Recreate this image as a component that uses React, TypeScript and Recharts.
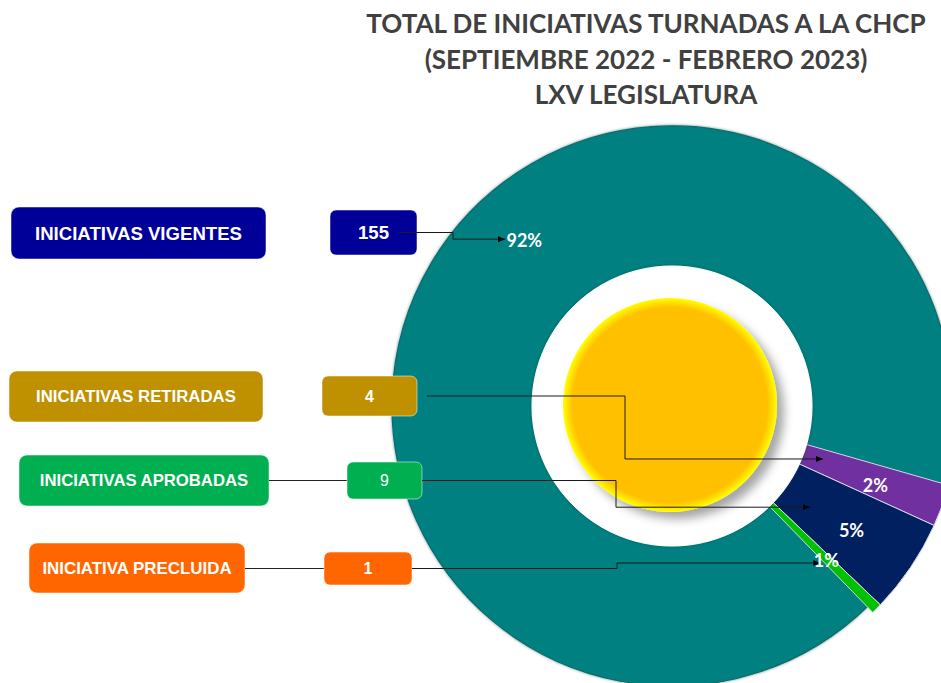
import React from 'react';
import { PieChart, Pie, Cell } from 'recharts';

// data
const categories = [
  'INICIATIVAS VIGENTES',
  'INICIATIVAS RETIRADAS',
  'INICIATIVAS APROBADAS',
  'INICIATIVA PRECLUIDA'
];
const values = [155, 4, 9, 1];
const sliceColors = ['#008080', '#7030A0', '#002060', '#00C000'];
const boxColors = ['#000099', '#BF9000', '#00B050', '#FF6600'];
const titleLines = [
  'TOTAL DE INICIATIVAS TURNADAS A LA CHCP',
  '(SEPTIEMBRE 2022 - FEBRERO 2023)',
  'LXV LEGISLATURA'
];

const pieData = categories.map((name, i) => ({ name, value: values[i] }));
const holeData = [{ name: 'centro', value: 1 }];

// layout
const W = 941;
const H = 683;
const CX = 672;
const CY = 406;
const START_ANGLE = 314.2;
const RAD = Math.PI / 180;

const nameBoxes = [
  { x: 11, y: 207, w: 255, h: 52 },
  { x: 9, y: 371, w: 254, h: 51 },
  { x: 19, y: 455, w: 250, h: 51 },
  { x: 29, y: 543, w: 216, h: 50 }
];
const valueBoxes = [
  { x: 330, y: 210, w: 87, h: 45 },
  { x: 322, y: 376, w: 95, h: 40 },
  { x: 347, y: 462, w: 75, h: 37 },
  { x: 324, y: 552, w: 88, h: 33 }
];
const nameFontSize = [18.6, 16.8, 16.7, 16.9];
const valueFontSize = [18.6, 16, 16, 16];
const valueBold = [true, true, false, true];
const linkedToName = [false, false, true, true];
const leaderStartX = [398, 427, 422, 412];
const elbowX = [453, 625, 616, 617];
const tipR = [236, 160, 171, 216];
const tipDA = [-14.1, 0.9, -2.2, -1.9];
const labelR = [222, 218, 218, 218];
const labelDA = [-17.4, -0.9, -0.5, -0.2];

const polar = (cx: number, cy: number, r: number, a: number) => ({
  x: cx + r * Math.cos(-a * RAD),
  y: cy + r * Math.sin(-a * RAD)
});

const renderOverlay = (props: any) => {
  const { midAngle, percent, index } = props;
  const cx = typeof props.cx === 'number' ? props.cx : CX;
  const cy = typeof props.cy === 'number' ? props.cy : CY;
  const nb = nameBoxes[index];
  const vb = valueBoxes[index];
  const lineY = vb.y + vb.h / 2;
  const tip = polar(cx, cy, tipR[index], midAngle + tipDA[index]);
  const lp = polar(cx, cy, labelR[index], midAngle + labelDA[index]);

  return (
    <g key={`ov-${index}`}>
      <rect x={nb.x} y={nb.y} width={nb.w} height={nb.h} rx={8} fill={boxColors[index]} stroke="#ffffff" strokeOpacity={0.5} />
      <text
        x={nb.x + nb.w / 2}
        y={nb.y + nb.h / 2}
        textAnchor="middle"
        dominantBaseline="central"
        fill="#fff"
        fontFamily="'Liberation Sans', Arial, sans-serif"
        fontWeight={700}
        fontSize={nameFontSize[index]}
      >
        {categories[index]}
      </text>
      {linkedToName[index] && (
        <line x1={nb.x + nb.w} y1={lineY} x2={vb.x} y2={lineY} stroke="#222" strokeWidth={1} />
      )}
      <rect x={vb.x} y={vb.y} width={vb.w} height={vb.h} rx={6} fill={boxColors[index]} stroke="#ffffff" strokeOpacity={0.5} />
      <text
        x={vb.x + vb.w / 2}
        y={lineY}
        textAnchor="middle"
        dominantBaseline="central"
        fill="#fff"
        fontFamily="'Liberation Sans', Arial, sans-serif"
        fontWeight={valueBold[index] ? 700 : 400}
        fontSize={valueFontSize[index]}
      >
        {values[index]}
      </text>
      <path
        d={`M${leaderStartX[index]},${lineY} H${elbowX[index]} V${tip.y} H${tip.x}`}
        fill="none"
        stroke="#1a1a1a"
        strokeWidth={1}
        markerEnd="url(#arrowHead)"
      />
      <text
        x={lp.x}
        y={lp.y}
        textAnchor="middle"
        dominantBaseline="central"
        fill="#fff"
        fontFamily="Lato, 'Open Sans', sans-serif"
        fontWeight={700}
        fontSize={18}
      >
        {`${Math.round(percent * 100)}%`}
      </text>
    </g>
  );
};

export default function App() {
  return (
    <div style={{ position: 'absolute', left: 0, top: 0, width: W, height: H, overflow: 'hidden', background: '#fff' }}>
      <PieChart width={W} height={H} margin={{ top: 0, right: 0, bottom: 0, left: 0 }}>
        <defs>
          <radialGradient id="yellowFill" cx="50%" cy="50%" r="50%">
            <stop offset="0%" stopColor="#FFC000" />
            <stop offset="91%" stopColor="#FFC000" />
            <stop offset="100%" stopColor="#FFFF00" />
          </radialGradient>
          <filter id="yellowShadow" x="-20%" y="-20%" width="150%" height="150%">
            <feDropShadow dx="7" dy="7" stdDeviation="5" floodColor="#000" floodOpacity="0.35" />
          </filter>
          <filter id="ringShadow" x="-10%" y="-10%" width="120%" height="120%">
            <feDropShadow dx="0" dy="0" stdDeviation="1.5" floodColor="#004848" floodOpacity="0.6" />
          </filter>
          <marker id="arrowHead" markerWidth={8} markerHeight={8} refX={7} refY={4} orient="auto" markerUnits="userSpaceOnUse">
            <path d="M0,1 L7,4 L0,7 z" fill="#000" />
          </marker>
        </defs>

        {/* main slice */}
        <Pie
          data={pieData}
          dataKey="value"
          cx={CX}
          cy={CY}
          outerRadius={280}
          innerRadius={0}
          startAngle={START_ANGLE}
          endAngle={START_ANGLE - 360}
          isAnimationActive={false}
          labelLine={false}
        >
          {pieData.map((d, i) => (
            <Cell
              key={d.name}
              fill={i === 0 ? sliceColors[0] : 'none'}
              stroke={i === 0 ? '#0b6a6a' : 'none'}
              strokeWidth={1.2}
              filter={i === 0 ? 'url(#ringShadow)' : undefined}
            />
          ))}
        </Pie>

        {/* small slices, pulled out a bit */}
        <Pie
          data={pieData}
          dataKey="value"
          cx={CX}
          cy={CY}
          outerRadius={288}
          innerRadius={0}
          startAngle={START_ANGLE}
          endAngle={START_ANGLE - 360}
          isAnimationActive={false}
          labelLine={false}
        >
          {pieData.map((d, i) => (
            <Cell
              key={d.name}
              fill={i === 0 ? 'none' : sliceColors[i]}
              stroke={i === 0 ? 'none' : '#d8d8e8'}
              strokeWidth={1}
            />
          ))}
        </Pie>

        {/* white plate */}
        <Pie
          data={holeData}
          dataKey="value"
          cx={CX}
          cy={CY}
          outerRadius={140}
          isAnimationActive={false}
          labelLine={false}
        >
          <Cell fill="#ffffff" stroke="#ffffff" filter="url(#ringShadow)" />
        </Pie>

        {/* yellow disc */}
        <Pie
          data={holeData}
          dataKey="value"
          cx={CX - 2}
          cy={CY - 1}
          outerRadius={107}
          isAnimationActive={false}
          labelLine={false}
        >
          <Cell fill="url(#yellowFill)" stroke="none" filter="url(#yellowShadow)" />
        </Pie>

        {/* boxes, leader lines and percentages */}
        <Pie
          data={pieData}
          dataKey="value"
          cx={CX}
          cy={CY}
          outerRadius={280}
          startAngle={START_ANGLE}
          endAngle={START_ANGLE - 360}
          isAnimationActive={false}
          labelLine={false}
          label={renderOverlay}
        >
          {pieData.map((d) => (
            <Cell key={d.name} fill="none" stroke="none" />
          ))}
        </Pie>
      </PieChart>

      <div
        style={{
          position: 'absolute',
          left: 346,
          top: 6,
          width: 600,
          textAlign: 'center',
          fontFamily: "Lato, 'Open Sans', sans-serif",
          fontWeight: 700,
          fontSize: 26,
          lineHeight: '35.5px',
          color: '#404040'
        }}
      >
        {titleLines.map((t) => (
          <div key={t}>{t}</div>
        ))}
      </div>
    </div>
  );
}
